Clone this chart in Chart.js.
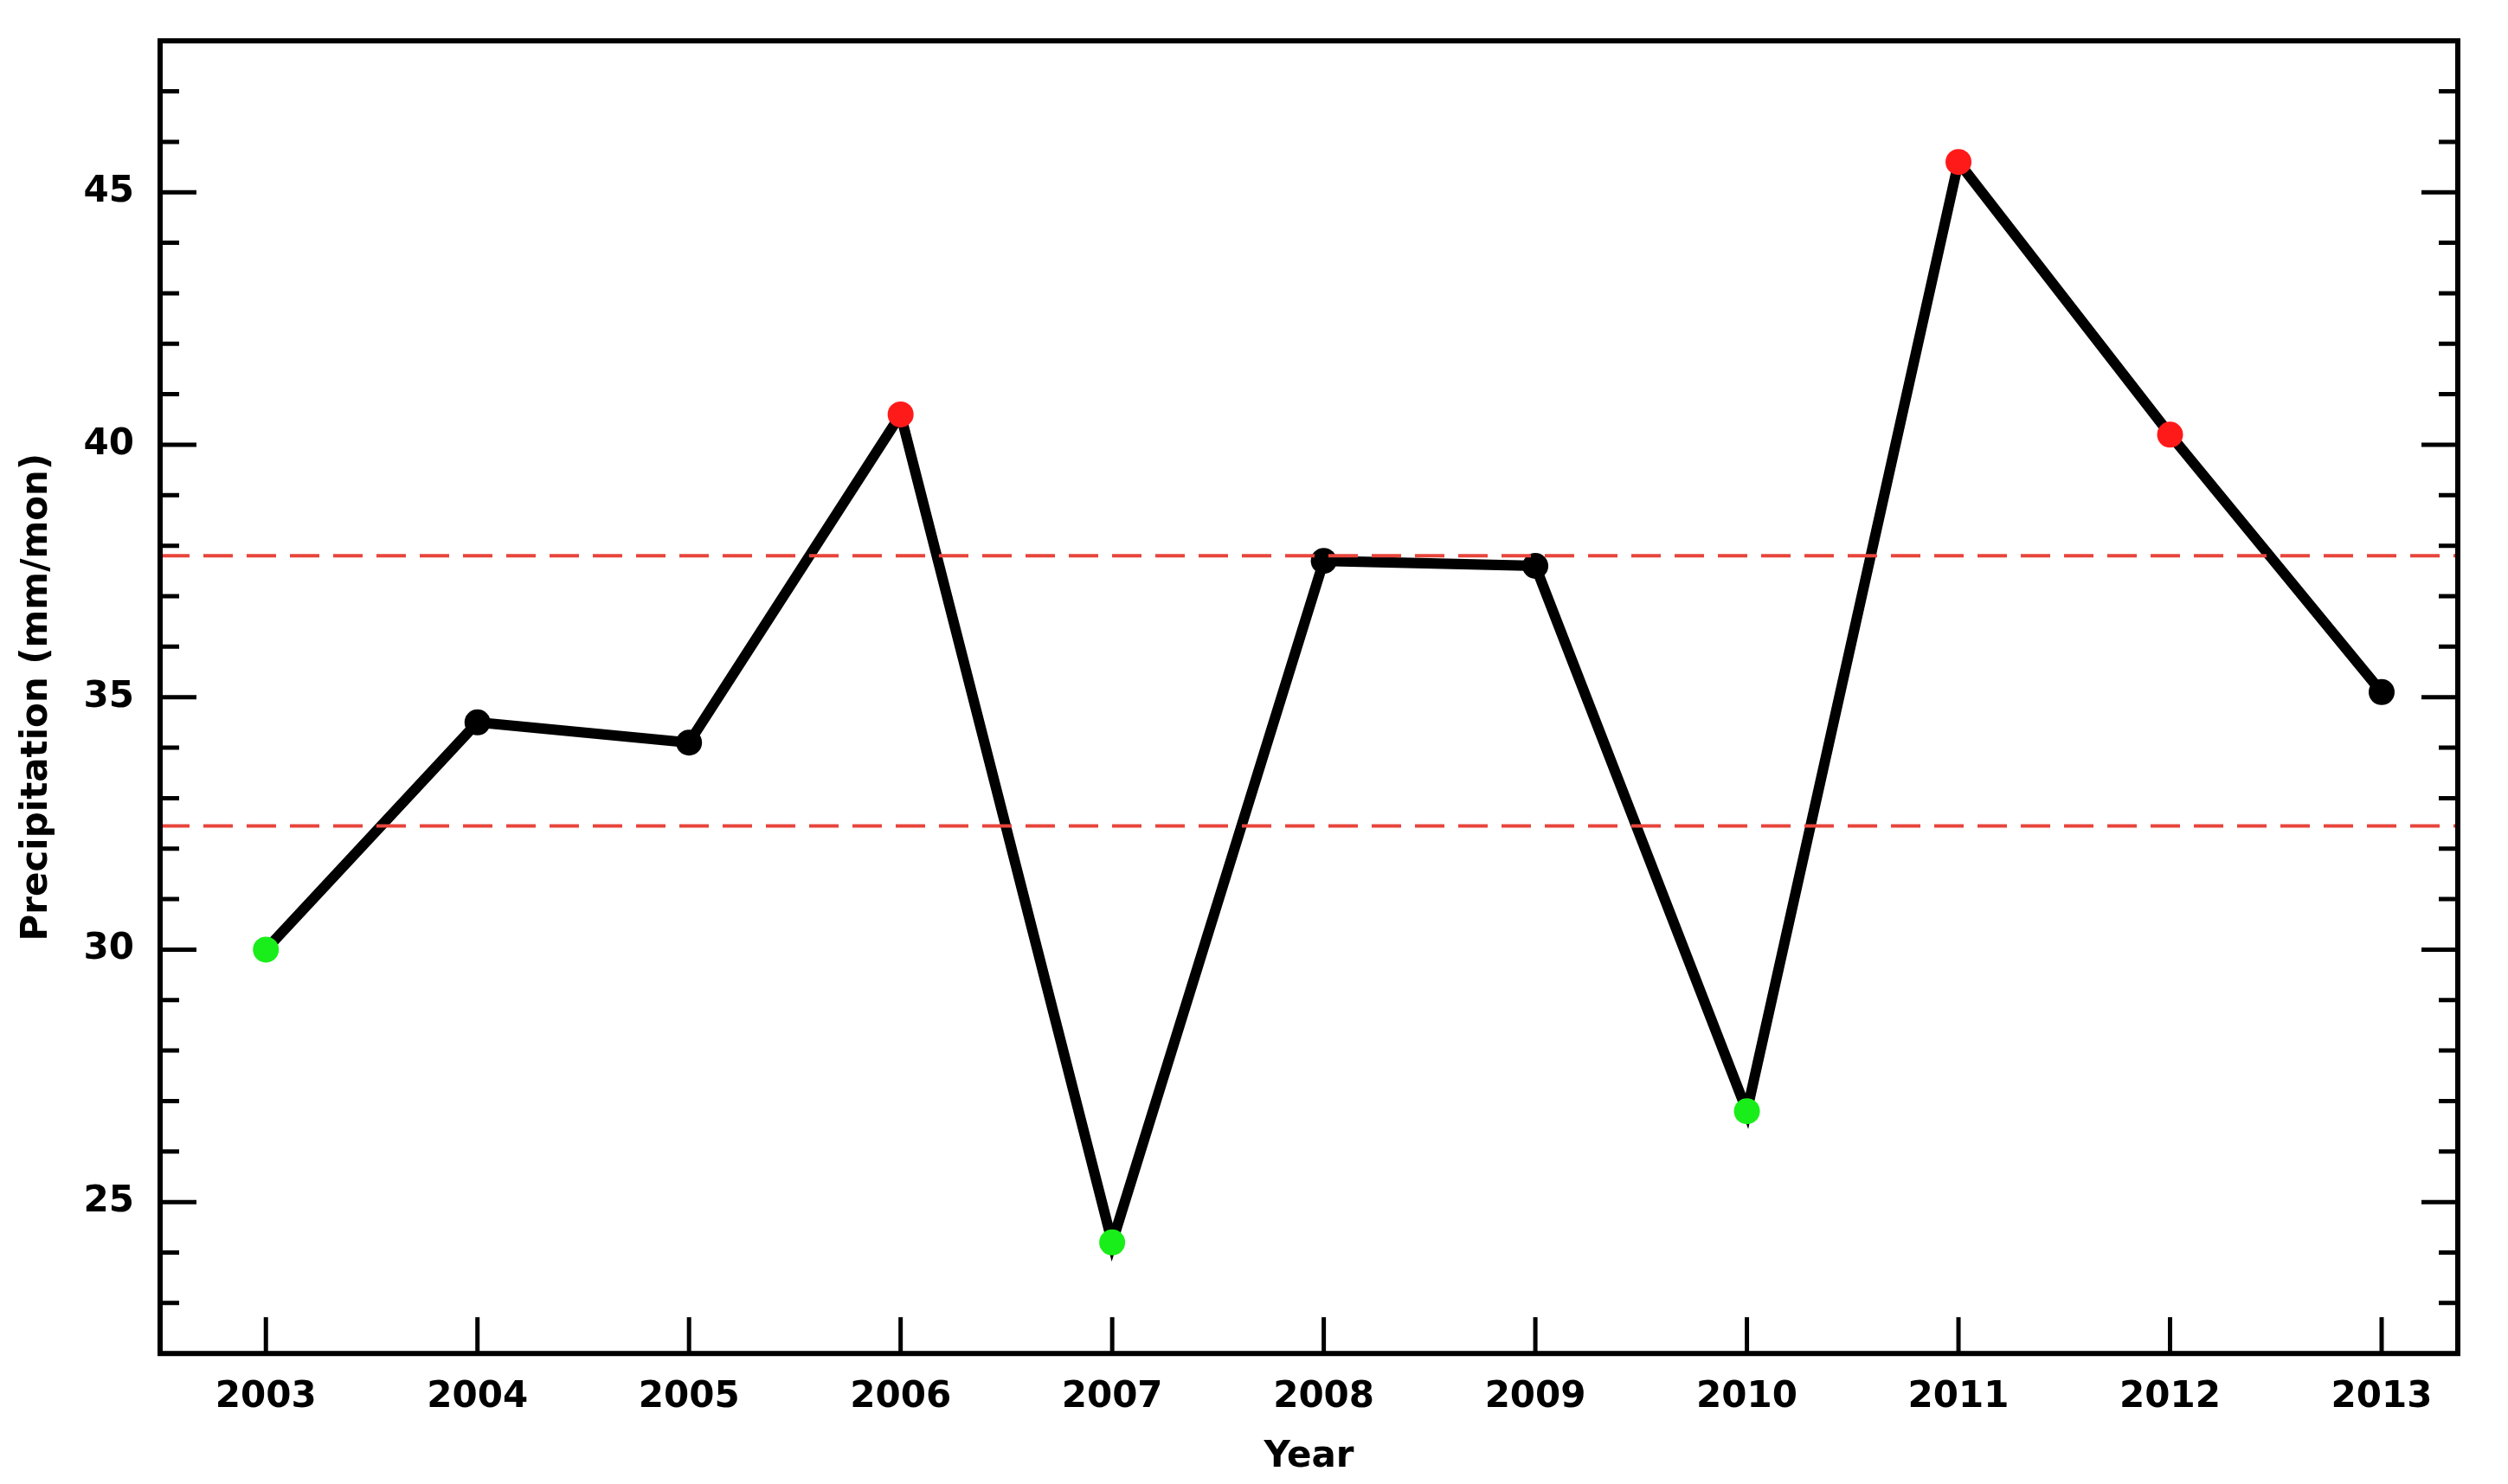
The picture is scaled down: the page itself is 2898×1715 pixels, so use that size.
<!DOCTYPE html>
<html>
<head>
    <title>Precipitation</title>
    <meta charset="utf-8">
    <script src="https://cdn.jsdelivr.net/npm/chart.js@4/dist/chart.umd.min.js"></script>
    <style>
      html, body { margin: 0; background: white; }
      .chart-container { position: relative; width: 2898px; height: 1715px; }
    </style>
</head>
<body>
    <div class="chart-container"><canvas id="chart"></canvas></div>
    <script>
        const years = [2003, 2004, 2005, 2006, 2007, 2008, 2009, 2010, 2011, 2012, 2013];
        const precip = [30.0, 34.5, 34.1, 40.6, 24.2, 37.7, 37.6, 26.8, 45.6, 40.2, 35.1];
        const upperLine = 37.8;
        const lowerLine = 32.45;
        const yMajorTicks = [25, 30, 35, 40, 45];

        function getColor(v) {
            if (v > upperLine) return '#ff1a1a';
            if (v < lowerLine) return '#1aee1a';
            return 'black';
        }

        const font = { family: 'DejaVu Sans', size: 42, weight: 'bold' };

        // inward ticks on left, right and bottom, plus the frame
        const frameTicks = {
            id: 'frameTicks',
            afterDraw(chart) {
                const c = chart.ctx, a = chart.chartArea;
                const xs = chart.scales.x, ys = chart.scales.y;
                c.save();
                c.strokeStyle = 'black';
                c.lineWidth = 5;
                for (let v = 23; v <= 47; v++) {
                    const y = ys.getPixelForValue(v);
                    const len = yMajorTicks.includes(v) ? 42 : 22;
                    c.beginPath();
                    c.moveTo(a.left, y); c.lineTo(a.left + len, y);
                    c.moveTo(a.right, y); c.lineTo(a.right - len, y);
                    c.stroke();
                }
                years.forEach(yr => {
                    const x = xs.getPixelForValue(yr);
                    c.beginPath();
                    c.moveTo(x, a.bottom); c.lineTo(x, a.bottom - 42);
                    c.stroke();
                });
                c.lineWidth = 6;
                c.strokeRect(a.left, a.top, a.right - a.left, a.bottom - a.top);
                c.restore();
            }
        };

        const ctx = document.getElementById('chart').getContext('2d');
        new Chart(ctx, {
            type: 'line',
            data: {
                datasets: [{
                    label: 'upper',
                    data: [{ x: 2002.5, y: upperLine }, { x: 2013.36, y: upperLine }],
                    borderColor: '#e8453c', borderWidth: 4, borderDash: [34, 16],
                    pointRadius: 0
                }, {
                    label: 'lower',
                    data: [{ x: 2002.5, y: lowerLine }, { x: 2013.36, y: lowerLine }],
                    borderColor: '#e8453c', borderWidth: 4, borderDash: [34, 16],
                    pointRadius: 0
                }, {
                    label: 'Precipitation',
                    data: years.map((yr, i) => ({ x: yr, y: precip[i] })),
                    borderColor: 'black', borderWidth: 12,
                    pointRadius: 15,
                    pointBorderWidth: 0,
                    pointBackgroundColor: precip.map(getColor),
                    tension: 0
                }]
            },
            options: {
                animation: false,
                responsive: true,
                maintainAspectRatio: false,
                layout: { padding: { top: 30, right: 58, bottom: 6, left: 18 } },
                plugins: { legend: { display: false }, tooltip: { enabled: false } },
                scales: {
                    x: {
                        type: 'linear', min: 2002.5, max: 2013.36,
                        grid: { display: false },
                        border: { display: false },
                        afterBuildTicks: s => { s.ticks = years.map(v => ({ value: v })); },
                        ticks: { color: 'black', font: font, padding: 18, maxRotation: 0,
                                 callback: v => String(v) },
                        title: { display: true, text: 'Year', color: 'black', font: font, padding: 0 }
                    },
                    y: {
                        min: 22, max: 48,
                        grid: { display: false },
                        border: { display: false },
                        afterBuildTicks: s => { s.ticks = yMajorTicks.map(v => ({ value: v })); },
                        afterFit: s => { s.width = 167; },
                        ticks: { color: 'black', font: font, padding: 22 },
                        title: { display: true, text: 'Precipitation (mm/mon)', color: 'black', font: font, padding: 0 }
                    }
                }
            },
            plugins: [frameTicks]
        });
    </script>
</body>
</html>
